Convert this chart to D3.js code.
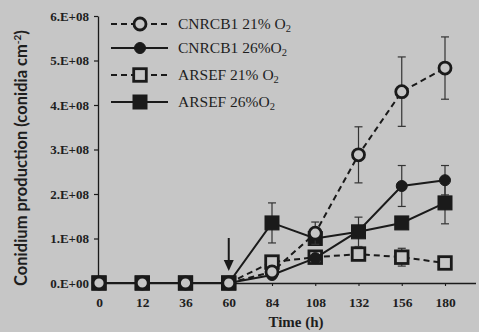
<!DOCTYPE html>
<html><head><meta charset="utf-8">
<script src="https://cdn.jsdelivr.net/npm/d3@7"></script>
<style>
html,body{margin:0;padding:0;background:#c6c6c6;}
svg{display:block;}
text{font-family:"Liberation Serif","Times New Roman",serif;fill:#1e1e1e;}
</style></head>
<body>
<svg id="chart" width="479" height="332"></svg>
<script>
const categories = ["0","12","36","60","84","108","132","156","180"];
const yTicks = [0,1e8,2e8,3e8,4e8,5e8,6e8];
const yTickLabels = ["0.E+00","1.E+08","2.E+08","3.E+08","4.E+08","5.E+08","6.E+08"];

const cnrcb21 = [0,0,0,0,0.25e8,1.12e8,2.88e8,4.3e8,4.83e8];
const cnrcb21Err = [0,0,0,0,0,0.25e8,0.63e8,0.78e8,0.7e8];
const cnrcb26 = [0,0,0,0,0.18e8,0.56e8,1.17e8,2.18e8,2.31e8];
const cnrcb26Err = [0,0,0,0,0,0,0,0.46e8,0.33e8];
const arsef21 = [0,0,0,0,0.47e8,0.58e8,0.65e8,0.58e8,0.45e8];
const arsef21Err = [0,0,0,0,0,0,0,0.2e8,0];
const arsef26 = [0,0,0,0,1.35e8,1.0e8,1.15e8,1.35e8,1.8e8];
const arsef26Err = [0,0,0,0,0.45e8,0,0.33e8,0,0.47e8];

const seriesNames = ["CNRCB1 21% O", "CNRCB1 26%O", "ARSEF 21% O", "ARSEF 26%O"];

const series = [
  {name:seriesNames[0], v:cnrcb21, e:cnrcb21Err, dash:true, shape:"circle", fill:false},
  {name:seriesNames[1], v:cnrcb26, e:cnrcb26Err, dash:false, shape:"circle", fill:true},
  {name:seriesNames[2], v:arsef21, e:arsef21Err, dash:true, shape:"square", fill:false},
  {name:seriesNames[3], v:arsef26, e:arsef26Err, dash:false, shape:"square", fill:true}
];

const svg = d3.select("#chart");
const x = d3.scalePoint().domain(categories).range([99,445]);
const y = d3.scaleLinear().domain([0,6e8]).range([283,16]);
const ink = "#1a1a1a";
const bg = "#c6c6c6";

// y axis
const yAxis = svg.append("g").attr("transform","translate(98,0)")
  .call(d3.axisLeft(y).tickValues(yTicks).tickSize(4).tickSizeOuter(0)
    .tickFormat((d,i)=>yTickLabels[i]));
yAxis.select(".domain").attr("stroke",ink).attr("stroke-width",1.3);
yAxis.selectAll(".tick line").attr("stroke",ink).attr("stroke-width",1.2);
yAxis.selectAll(".tick text").attr("x",-9).style("font-size","13px").style("font-weight","bold")
  .style("font-family","Liberation Serif, serif").attr("fill","#2a2a2a");

// x axis
const xAxis = svg.append("g").attr("transform","translate(0,283)")
  .call(d3.axisBottom(x).tickSize(3).tickSizeOuter(0));
xAxis.select(".domain").attr("d","M98,0.5H476").attr("stroke",ink).attr("stroke-width",1.3);
xAxis.selectAll(".tick line").attr("stroke",ink).attr("stroke-width",1.1);
xAxis.selectAll(".tick text").attr("y",14).style("font-size","13.5px").style("font-weight","bold")
  .style("font-family","Liberation Serif, serif").attr("fill","#2a2a2a");

// axis titles
const yt = svg.append("text").attr("transform","translate(27,158) rotate(-90)").attr("text-anchor","middle")
  .style("font-family","Lato, 'Open Sans', sans-serif")
  .style("font-size","16.5px").style("font-weight","bold").attr("fill","#2a2a2a");
yt.append("tspan").text("Conidium production (conidia cm");
yt.append("tspan").attr("dy",-6).style("font-size","10px").text("-2");
yt.append("tspan").attr("dy",6).text(")");
svg.append("text").attr("x",296).attr("y",327).attr("text-anchor","middle")
  .style("font-size","15px").style("font-weight","bold").attr("fill","#2a2a2a").text("Time (h)");

// arrow
svg.append("line").attr("x1",x("60")).attr("x2",x("60")).attr("y1",238).attr("y2",266)
  .attr("stroke",ink).attr("stroke-width",2);
svg.append("path").attr("d",`M${x("60")-5},260 L${x("60")+5},260 L${x("60")},271 Z`).attr("fill",ink);

const line = d3.line().x((d,i)=>x(categories[i])).y(d=>y(d));

function marker(g, s, cx, cy){
  if(s.shape==="circle"){
    g.append("circle").attr("cx",cx).attr("cy",cy).attr("r",s.fill?5.5:6)
      .attr("fill",s.fill?ink:bg).attr("stroke",ink).attr("stroke-width",s.fill?1:2.8);
  } else {
    const h = s.fill?7:6.3;
    g.append("rect").attr("x",cx-h).attr("y",cy-h).attr("width",2*h).attr("height",2*h)
      .attr("fill",s.fill?ink:bg).attr("stroke",ink).attr("stroke-width",s.fill?1:2.8);
  }
}

// draw series: error bars, lines, markers
const order = [2,3,1,0];
order.forEach(k=>{
  const s = series[k];
  const g = svg.append("g");
  s.v.forEach((v,i)=>{
    if(s.e[i]>0){
      const cx = x(categories[i]);
      g.append("line").attr("x1",cx).attr("x2",cx).attr("y1",y(v+s.e[i])).attr("y2",y(v-s.e[i]))
        .attr("stroke","#333").attr("stroke-width",1.2);
      [v+s.e[i], v-s.e[i]].forEach(t=>{
        g.append("line").attr("x1",cx-4).attr("x2",cx+4).attr("y1",y(t)).attr("y2",y(t))
          .attr("stroke","#333").attr("stroke-width",1.2);
      });
    }
  });
  g.append("path").datum(s.v).attr("d",line).attr("fill","none").attr("stroke",ink)
    .attr("stroke-width",2).attr("stroke-dasharray",s.dash?"6,4":null);
  s.v.forEach((v,i)=>marker(g,s,x(categories[i]),y(v)));
});

// legend
const legY = [24,48,75,102];
series.forEach((s,i)=>{
  const g = svg.append("g");
  g.append("line").attr("x1",111).attr("x2",168).attr("y1",legY[i]).attr("y2",legY[i])
    .attr("stroke",ink).attr("stroke-width",2).attr("stroke-dasharray",s.dash?"6,4":null);
  marker(g,s,140,legY[i]);
  const t = g.append("text").attr("x",178).attr("y",legY[i]+5).style("font-size","15.5px").attr("fill","#3a3a3a").text(s.name);
  t.append("tspan").attr("dy",3).style("font-size","10.5px").text("2");
});
</script>
</body></html>
